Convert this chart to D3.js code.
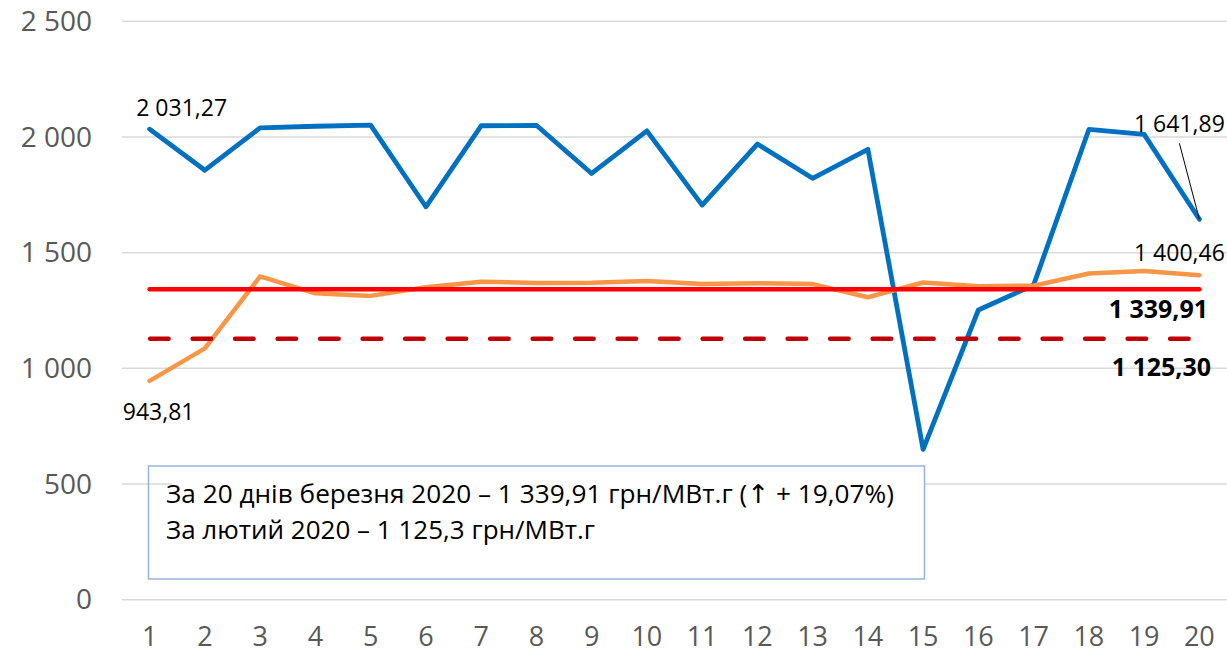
<!DOCTYPE html>
<html>
<head>
<meta charset="utf-8">
<script src="https://cdn.jsdelivr.net/npm/d3@7"></script>
<style>
  body { margin: 0; background: #fff; }
  svg { display: block; font-family: "Open Sans", sans-serif; }
</style>
</head>
<body>
<div id="chart"></div>
<script>
// data
var days = ["1","2","3","4","5","6","7","8","9","10","11","12","13","14","15","16","17","18","19","20"];
var dailyPrice = [2031.27, 1854, 2037, 2044, 2049, 1696, 2046, 2048, 1840, 2024,
                  1703, 1967, 1819, 1944, 648, 1250, 1358, 2030, 2009, 1641.89];
var avgPrice = [943.81, 1084, 1395, 1322, 1311, 1348, 1372, 1367, 1368, 1375,
                1362, 1366, 1362, 1305, 1369, 1353, 1355, 1408, 1419, 1400.46];
var marchAvg = 1339.91;
var febAvg = 1125.30;
var yTicks = [0, 500, 1000, 1500, 2000, 2500];
// note text, split where the arrow glyph sits
var noteLines = [
  ["За 20 днів березня 2020 – 1 339,91 грн/МВт.г (", "↑", " + 19,07%)"],
  ["За лютий 2020 – 1 125,3 грн/МВт.г"]
];

var width = 1227, height = 655;
var fmt = function(v) {
  return d3.format(",.2f")(v).replace(/,/g, " ").replace(".", ",");
};

var svg = d3.select("#chart").append("svg")
    .attr("width", width)
    .attr("height", height);

// scales
var x = d3.scalePoint().domain(days).range([122, 1227]).padding(0.5);
var y = d3.scaleLinear().domain([0, 2500]).range([599.3, 20.7]);

// gridlines
svg.append("g")
    .attr("transform", "translate(122,0)")
    .call(d3.axisLeft(y).tickValues(yTicks).tickSize(-(1227 - 122)).tickFormat(""))
    .call(function(g) { g.select(".domain").remove(); })
    .selectAll("line")
    .attr("stroke", "#d9d9d9")
    .attr("stroke-width", 1.5);

// y labels
svg.append("g").selectAll("text")
    .data(yTicks)
  .enter().append("text")
    .attr("x", 92)
    .attr("y", function(d) { return y(d); })
    .attr("dy", "0.36em")
    .attr("text-anchor", "end")
    .attr("fill", "#595959")
    .attr("font-size", "28px")
    .text(function(d) { return d3.format(",")(d).replace(/,/g, " "); });

// x labels
svg.append("g").selectAll("text")
    .data(days)
  .enter().append("text")
    .attr("x", function(d) { return x(d); })
    .attr("y", 646)
    .attr("text-anchor", "middle")
    .attr("fill", "#595959")
    .attr("font-size", "27px")
    .text(function(d) { return d; });

// note box
svg.append("rect")
    .attr("x", 172).attr("y", 467)
    .attr("width", 752).attr("height", 111)
    .attr("fill", "#fff");
svg.append("rect")
    .attr("x", 148.5).attr("y", 466)
    .attr("width", 776).attr("height", 113)
    .attr("fill", "none")
    .attr("stroke", "#95b3d7")
    .attr("stroke-width", 1.5);
var noteWidths = [728, 429];
svg.append("g").selectAll("text")
    .data(noteLines)
  .enter().append("text")
    .attr("x", 166)
    .attr("y", function(d, i) { return 503 + i * 36; })
    .attr("font-size", "26px")
    .attr("fill", "#000")
    .attr("textLength", function(d, i) { return noteWidths[i]; })
    .attr("lengthAdjust", "spacingAndGlyphs")
    .each(function(parts) {
      var t = d3.select(this);
      parts.forEach(function(p) {
        t.append("tspan")
          .attr("font-family", p === "↑" ? "'DejaVu Sans', sans-serif" : null)
          .text(p);
      });
    });

var line = d3.line()
    .x(function(d, i) { return x(days[i]); })
    .y(function(d) { return y(d); });

// daily price
svg.append("path")
    .datum(dailyPrice)
    .attr("d", line)
    .attr("fill", "none")
    .attr("stroke", "#0070c0")
    .attr("stroke-width", 4.8)
    .attr("stroke-linejoin", "round")
    .attr("stroke-linecap", "round");

// running average
svg.append("path")
    .datum(avgPrice)
    .attr("d", line)
    .attr("fill", "none")
    .attr("stroke", "#f79646")
    .attr("stroke-width", 4.5)
    .attr("stroke-linejoin", "round")
    .attr("stroke-linecap", "round");

// march average
svg.append("line")
    .attr("x1", x(days[0])).attr("x2", x(days[days.length - 1]))
    .attr("y1", y(marchAvg)).attr("y2", y(marchAvg))
    .attr("stroke", "#ff0000")
    .attr("stroke-width", 4.5)
    .attr("stroke-linecap", "round");

// february average
svg.append("line")
    .attr("x1", x(days[0]) + 0.5).attr("x2", x(days[days.length - 1]))
    .attr("y1", y(febAvg)).attr("y2", y(febAvg))
    .attr("stroke", "#c00000")
    .attr("stroke-width", 4.5)
    .attr("stroke-dasharray", "18.5,24")
    .attr("stroke-linecap", "round");

// data labels
var last = days.length - 1;
svg.append("text")
    .attr("x", x(days[0]) + 32).attr("y", y(dailyPrice[0]) - 13)
    .attr("text-anchor", "middle").attr("font-size", "23px")
    .text(fmt(dailyPrice[0]));
svg.append("text")
    .attr("x", x(days[0]) + 9).attr("y", y(avgPrice[0]) + 39)
    .attr("text-anchor", "middle").attr("font-size", "23px")
    .text(fmt(avgPrice[0]));
svg.append("text")
    .attr("x", x(days[last]) - 20).attr("y", y(dailyPrice[last]) - 87)
    .attr("text-anchor", "middle").attr("font-size", "23px")
    .text(fmt(dailyPrice[last]));
svg.append("line")
    .attr("x1", x(days[last]) - 20).attr("y1", y(dailyPrice[last]) - 76)
    .attr("x2", x(days[last])).attr("y2", y(dailyPrice[last]))
    .attr("stroke", "#000").attr("stroke-width", 1);
svg.append("text")
    .attr("x", x(days[last]) - 20).attr("y", y(avgPrice[last]) - 14)
    .attr("text-anchor", "middle").attr("font-size", "23px")
    .text(fmt(avgPrice[last]));
svg.append("text")
    .attr("x", x(days[last]) - 41).attr("y", y(marchAvg) + 29)
    .attr("text-anchor", "middle").attr("font-size", "25px").attr("font-weight", "bold")
    .text(fmt(marchAvg));
svg.append("text")
    .attr("x", x(days[last]) - 38).attr("y", y(febAvg) + 37)
    .attr("text-anchor", "middle").attr("font-size", "25px").attr("font-weight", "bold")
    .text(fmt(febAvg));
</script>
</body>
</html>
